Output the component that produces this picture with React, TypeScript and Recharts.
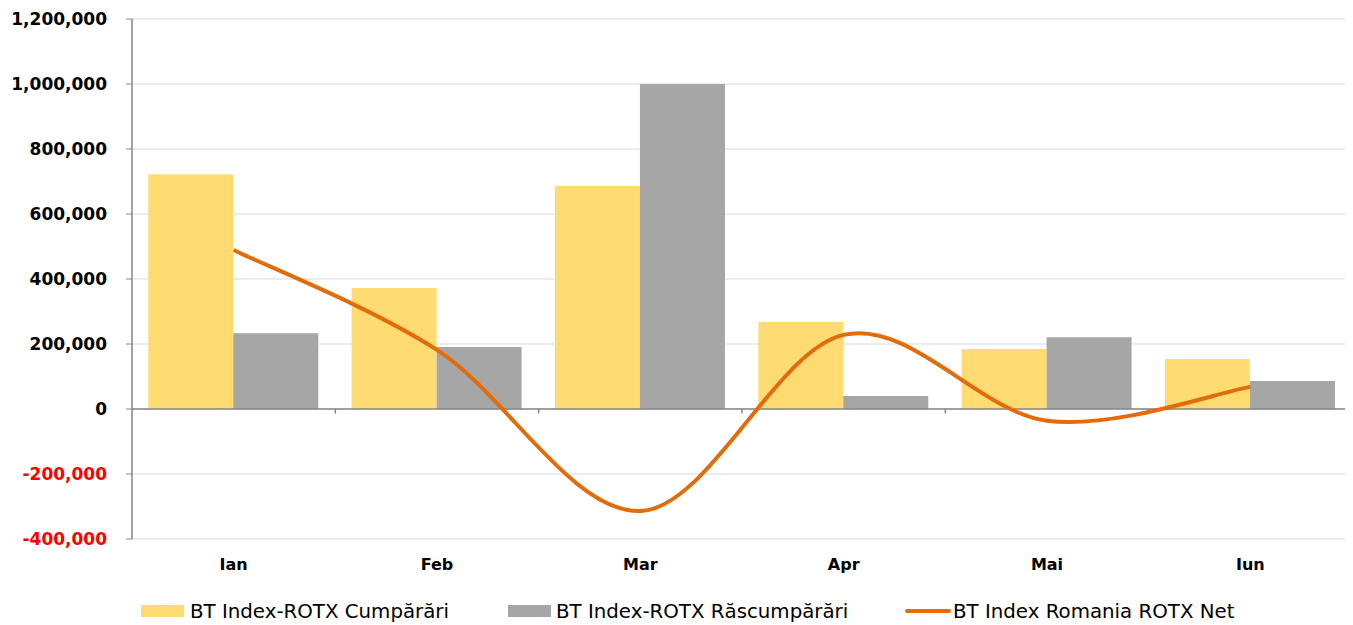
import React from 'react';
import { ComposedChart, Bar, Line, XAxis, YAxis, CartesianGrid, Legend, ReferenceLine } from 'recharts';

const months = ['Ian', 'Feb', 'Mar', 'Apr', 'Mai', 'Iun'];
const cumparari = [722000, 372000, 686000, 268000, 185000, 154000];
const rascumparari = [233000, 191000, 1000000, 40000, 221000, 86000];
const net = [489000, 182000, -314000, 228000, -36000, 68000];
const yTicks = [-400000, -200000, 0, 200000, 400000, 600000, 800000, 1000000, 1200000];

const seriesNames = {
  buy: 'BT Index-ROTX Cumpărări',
  sell: 'BT Index-ROTX Răscumpărări',
  net: 'BT Index Romania ROTX Net',
};

const colors = {
  buy: '#FFDB72',
  sell: '#A6A6A6',
  net: '#E36C0A',
  axis: '#868686',
  grid: '#D9D9D9',
};

const font = '"DejaVu Sans", Tahoma, sans-serif';

const data = months.map((m, i) => ({
  name: m,
  buy: cumparari[i],
  sell: rascumparari[i],
  net: net[i],
}));

// smoothed line like the spreadsheet one (catmull-rom through the points)
function smoothCurve(context: any) {
  let pts: number[][] = [];
  return {
    areaStart() {},
    areaEnd() {},
    lineStart() {
      pts = [];
    },
    point(x: number, y: number) {
      pts.push([+x, +y]);
    },
    lineEnd() {
      const n = pts.length;
      if (!n) return;
      context.moveTo(pts[0][0], pts[0][1]);
      for (let i = 0; i < n - 1; i++) {
        const p0 = pts[Math.max(i - 1, 0)];
        const p1 = pts[i];
        const p2 = pts[i + 1];
        const p3 = pts[Math.min(i + 2, n - 1)];
        context.bezierCurveTo(
          p1[0] + (p2[0] - p0[0]) / 6,
          p1[1] + (p2[1] - p0[1]) / 6,
          p2[0] - (p3[0] - p1[0]) / 6,
          p2[1] - (p3[1] - p1[1]) / 6,
          p2[0],
          p2[1]
        );
      }
    },
  };
}

function YTick(props: any) {
  const { x, y, payload } = props;
  const v = payload.value as number;
  return (
    <text
      x={x}
      y={y}
      dy="0.35em"
      textAnchor="end"
      fontFamily={font}
      fontWeight="bold"
      fontSize={17}
      fill={v < 0 ? '#FF0000' : '#000'}
    >
      {v.toLocaleString('en-US')}
    </text>
  );
}

function LegendBox() {
  const item = (left: number, swatch: React.ReactNode, label: string) => (
    <div style={{ position: 'absolute', left, top: 0, display: 'flex', alignItems: 'center', height: 28 }}>
      {swatch}
      <span style={{ fontFamily: font, fontSize: 19.8, color: '#000', whiteSpace: 'nowrap' }}>{label}</span>
    </div>
  );
  return (
    <div style={{ position: 'relative', width: 1345, height: 28 }}>
      {item(133, <div style={{ width: 43, height: 12, background: colors.buy, marginRight: 6 }} />, seriesNames.buy)}
      {item(500, <div style={{ width: 43, height: 12, background: colors.sell, marginRight: 5 }} />, seriesNames.sell)}
      {item(897, <div style={{ width: 46, height: 4, background: colors.net, borderRadius: 2, marginRight: 2 }} />, seriesNames.net)}
    </div>
  );
}

export default function App() {
  return (
    <div style={{ width: 1345, height: 617 }}>
      <ComposedChart
        width={1345}
        height={617}
        data={data}
        margin={{ top: 11, right: 1, left: 0, bottom: 0 }}
        barCategoryGap="8%"
        barGap={0}
      >
        <CartesianGrid vertical={false} stroke={colors.grid} strokeWidth={1} />
        <XAxis
          dataKey="name"
          axisLine={false}
          tickLine={false}
          tickMargin={14}
          height={58}
          tick={{ fontFamily: font, fontWeight: 'bold', fontSize: 16, fill: '#000' }}
        />
        <YAxis
          width={124}
          domain={[-400000, 1200000]}
          ticks={yTicks}
          interval={0}
          axisLine={{ stroke: colors.axis, strokeWidth: 1.5 }}
          tickLine={{ stroke: colors.axis }}
          tickSize={6}
          tickMargin={19}
          tick={<YTick />}
        />
        <Bar dataKey="buy" name={seriesNames.buy} fill={colors.buy} isAnimationActive={false} />
        <Bar dataKey="sell" name={seriesNames.sell} fill={colors.sell} isAnimationActive={false} />
        <ReferenceLine y={0} stroke={colors.axis} strokeWidth={1.5} />
        {months.slice(1).map((m) => (
          <ReferenceLine
            key={m}
            segment={[{ x: m, y: 0 }, { x: m, y: -14000 }]}
            position="start"
            stroke={colors.axis}
            strokeWidth={1.5}
          />
        ))}
        <ReferenceLine
          segment={[{ x: months[months.length - 1], y: 0 }, { x: months[months.length - 1], y: -14000 }]}
          position="end"
          stroke={colors.axis}
          strokeWidth={1.5}
        />
        <Line
          type={smoothCurve as any}
          dataKey="net"
          name={seriesNames.net}
          stroke={colors.net}
          strokeWidth={4}
          dot={false}
          activeDot={false}
          isAnimationActive={false}
        />
        <Legend verticalAlign="bottom" height={28} content={() => <LegendBox />} />
      </ComposedChart>
    </div>
  );
}
